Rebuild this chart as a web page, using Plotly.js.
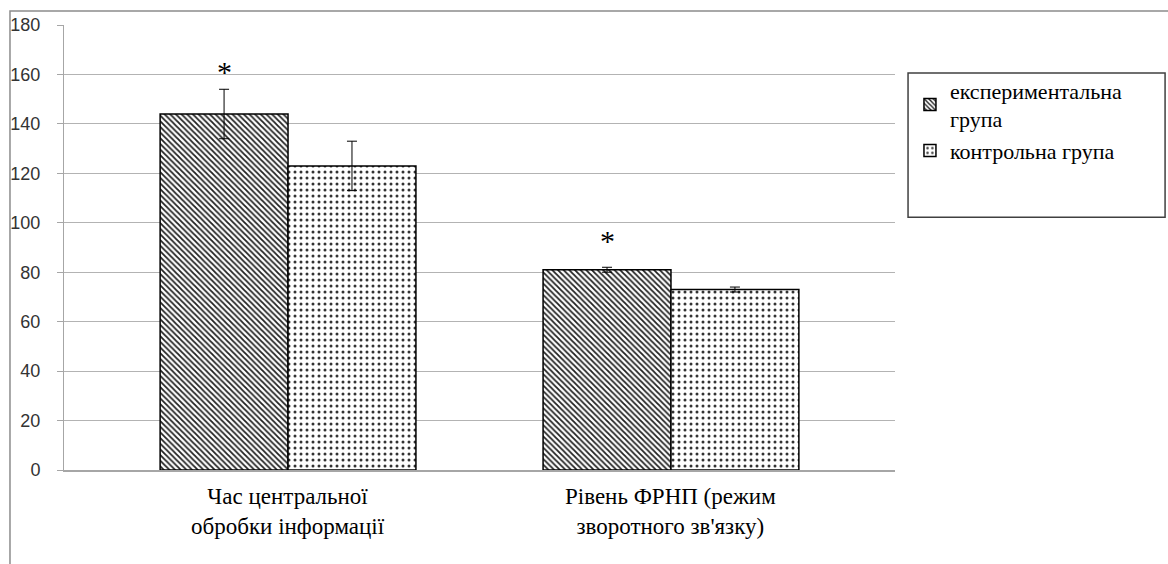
<!DOCTYPE html>
<html>
<head>
<meta charset="utf-8">
<script src="https://cdn.plot.ly/plotly-3.0.1.min.js"></script>
<style>
html,body{margin:0;padding:0;background:#fff;}
#chart{width:1168px;height:564px;}
</style>
</head>
<body>
<div id="chart"></div>
<script>
const categories = ["Час центральної<br>обробки інформації", "Рівень ФРНП (режим<br>зворотного зв'язку)"];
const seriesNames = ["експериментальна<br>група", "контрольна група"];
const expValues = [144, 81];
const ctrlValues = [123, 73];
const expErr = [10, 1];
const ctrlErr = [10, 1];
const starLabels = ["*", "*"];
const starValues = [161, 93];
const yTicks = [0, 20, 40, 60, 80, 100, 120, 140, 160, 180];

const serifFont = "Liberation Serif";
const sansFont = "Liberation Sans";

const traces = [
  {
    type: "bar", name: seriesNames[0], x: categories, y: expValues,
    marker: {color: "#ffffff", line: {color: "#000", width: 1.5},
      pattern: {shape: "\\", fgcolor: "#222", bgcolor: "#fff", size: 4, solidity: 0.45}},
    error_y: {type: "data", array: expErr, visible: true, color: "#000", thickness: 1, width: 5}
  },
  {
    type: "bar", name: seriesNames[1], x: categories, y: ctrlValues,
    marker: {color: "#ffffff", line: {color: "#000", width: 1.5},
      pattern: {shape: ".", fgcolor: "#333", bgcolor: "#fff", size: 6, solidity: 0.2}},
    error_y: {type: "data", array: ctrlErr, visible: true, color: "#000", thickness: 1, width: 5}
  }
];

const annotations = starLabels.map((t, i) => ({
  x: i - 0.167, y: starValues[i], xref: "x", yref: "y", text: t, showarrow: false,
  font: {family: serifFont, size: 30, color: "#000"}, xanchor: "center", yanchor: "middle"
})).concat(categories.map((c, i) => ({
  x: i, y: -0.026, xref: "x", yref: "paper", text: c, showarrow: false,
  font: {family: serifFont, size: 23, color: "#000"}, xanchor: "center", yanchor: "top", align: "center"
})));

const layout = {
  width: 1168, height: 564,
  font: {family: serifFont, size: 22, color: "#000"},
  margin: {l: 64, r: 273, t: 25, b: 94},
  paper_bgcolor: "#fff", plot_bgcolor: "#fff",
  barmode: "group", bargap: 0.332, bargroupgap: 0,
  showlegend: true,
  legend: {x: 1.018, y: 0.9, xanchor: "left", yanchor: "top", bgcolor: "rgba(0,0,0,0)",
    font: {family: serifFont, size: 22, color: "#000"}, tracegroupgap: 12, itemwidth: 30},
  xaxis: {
    type: "category", range: [-0.585, 1.585], showgrid: false, zeroline: false,
    showline: true, linecolor: "#a6a6a6", linewidth: 1.5, ticks: "", showticklabels: false
  },
  yaxis: {
    range: [0, 180], tickvals: yTicks, ticktext: yTicks.map(String),
    showgrid: true, gridcolor: "#b3b3b3", gridwidth: 1.2, zeroline: false,
    showline: true, linecolor: "#a6a6a6", linewidth: 1,
    ticks: "outside", ticklen: 6, tickcolor: "#a6a6a6",
    tickfont: {family: sansFont, size: 18, color: "#333"}, ticklabelstandoff: 13
  },
  annotations: annotations,
  shapes: [
    {type: "path", xref: "paper", yref: "paper",
      path: "M -0.065 -0.3 L -0.065 1.0315 L 1.4 1.0315", line: {color: "#8c8c8c", width: 1.5}},
    {type: "rect", xref: "paper", yref: "paper", x0: 1.0157, x1: 1.325, y0: 0.568, y1: 0.892,
      line: {color: "#404040", width: 1.5}, fillcolor: "rgba(0,0,0,0)"}
  ]
};

Plotly.newPlot("chart", traces, layout, {staticPlot: true});
</script>
</body>
</html>
